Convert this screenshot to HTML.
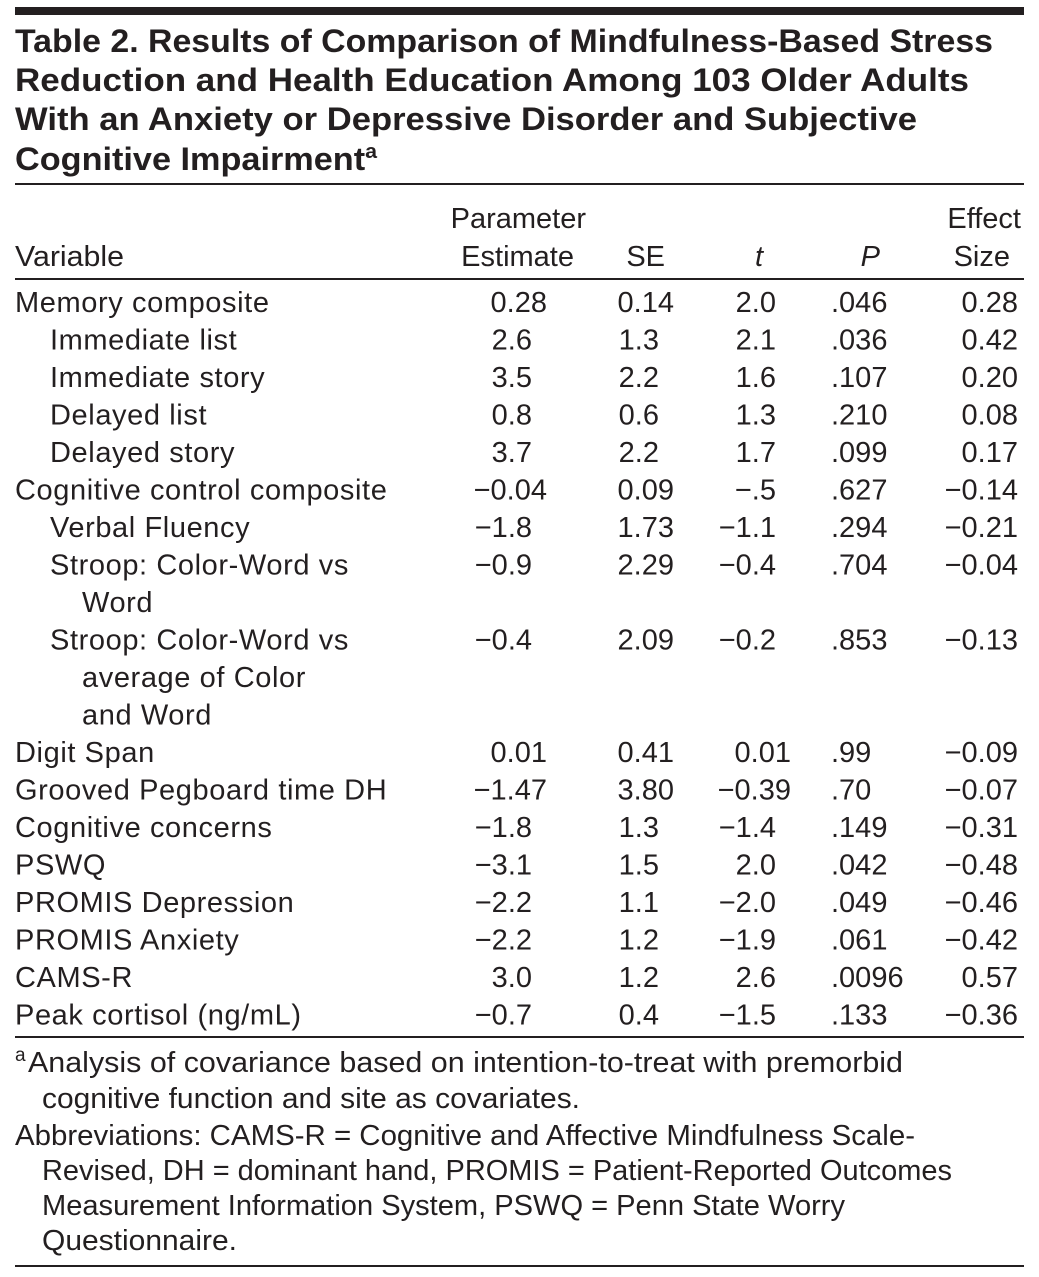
<!DOCTYPE html>
<html><head><meta charset="utf-8"><style>
html,body{margin:0;padding:0;background:#fff;}
svg{display:block;font-family:"Liberation Sans",Arial,sans-serif;fill:#231f20;}
</style></head><body>
<svg id="tbl" width="1039" height="1277" viewBox="0 0 1039 1277">
<rect x="15" y="7" width="1009" height="8" fill="#231f20"/>
<g font-weight="bold" font-size="32">
<text x="15" y="52" textLength="978" lengthAdjust="spacingAndGlyphs">Table 2. Results of Comparison of Mindfulness-Based Stress</text>
<text x="15" y="91" textLength="954" lengthAdjust="spacingAndGlyphs">Reduction and Health Education Among 103 Older Adults</text>
<text x="15" y="130" textLength="902" lengthAdjust="spacingAndGlyphs">With an Anxiety or Depressive Disorder and Subjective</text>
<text x="15" y="170" textLength="362" lengthAdjust="spacingAndGlyphs">Cognitive Impairment<tspan font-size="20" dy="-12">a</tspan></text>
</g>
<rect x="15" y="183" width="1009" height="2" fill="#231f20"/>
<g font-size="29">
<text x="15" y="266" textLength="109" lengthAdjust="spacingAndGlyphs">Variable</text>
<text x="586" y="228" text-anchor="end">Parameter</text>
<text x="574" y="266" text-anchor="end">Estimate</text>
<text x="665" y="266" text-anchor="end">SE</text>
<text x="763" y="266" text-anchor="end" font-style="italic">t</text>
<text x="880" y="266" text-anchor="end" font-style="italic">P</text>
<text x="1021" y="228" text-anchor="end">Effect</text>
<text x="1010" y="266" text-anchor="end">Size</text>
</g>
<rect x="15" y="278" width="1009" height="2" fill="#231f20"/>
<g id="rows" font-size="29"></g>
<rect x="15" y="1036" width="1009" height="2" fill="#231f20"/>
<g font-size="29">
<text x="15" y="1061" font-size="19">a</text>
<text x="28" y="1072" textLength="875" lengthAdjust="spacingAndGlyphs">Analysis of covariance based on intention-to-treat with premorbid</text>
<text x="42" y="1108" textLength="538" lengthAdjust="spacingAndGlyphs">cognitive function and site as covariates.</text>
<text x="15" y="1145" textLength="900" lengthAdjust="spacingAndGlyphs">Abbreviations: CAMS-R = Cognitive and Affective Mindfulness Scale-</text>
<text x="42" y="1180" textLength="910" lengthAdjust="spacingAndGlyphs">Revised, DH = dominant hand, PROMIS = Patient-Reported Outcomes</text>
<text x="42" y="1215" textLength="803" lengthAdjust="spacingAndGlyphs">Measurement Information System, PSWQ = Penn State Worry</text>
<text x="42" y="1250" textLength="195" lengthAdjust="spacingAndGlyphs">Questionnaire.</text>
</g>
<rect x="15" y="1265" width="1009" height="2" fill="#231f20"/>
</svg>
<script>
const labels=[["Memory composite"],["Immediate list"],["Immediate story"],["Delayed list"],["Delayed story"],["Cognitive control composite"],["Verbal Fluency"],["Stroop: Color-Word vs","Word"],["Stroop: Color-Word vs","average of Color","and Word"],["Digit Span"],["Grooved Pegboard time DH"],["Cognitive concerns"],["PSWQ"],["PROMIS Depression"],["PROMIS Anxiety"],["CAMS-R"],["Peak cortisol (ng/mL)"]];
const indent=[0,1,1,1,1,0,1,1,1,0,0,0,0,0,0,0,0];
const estimates=["0.28","2.6","3.5","0.8","3.7","−0.04","−1.8","−0.9","−0.4","0.01","−1.47","−1.8","−3.1","−2.2","−2.2","3.0","−0.7"];
const ses=["0.14","1.3","2.2","0.6","2.2","0.09","1.73","2.29","2.09","0.41","3.80","1.3","1.5","1.1","1.2","1.2","0.4"];
const tvals=["2.0","2.1","1.6","1.3","1.7","−.5","−1.1","−0.4","−0.2","0.01","−0.39","−1.4","2.0","−2.0","−1.9","2.6","−1.5"];
const pvals=[".046",".036",".107",".210",".099",".627",".294",".704",".853",".99",".70",".149",".042",".049",".061",".0096",".133"];
const effects=["0.28","0.42","0.20","0.08","0.17","−0.14","−0.21","−0.04","−0.13","−0.09","−0.07","−0.31","−0.48","−0.46","−0.42","0.57","−0.36"];
const NS="http://www.w3.org/2000/svg";
const g=document.getElementById('rows');
function txt(x,y,s,anchor){const t=document.createElementNS(NS,'text');t.setAttribute('x',x);t.setAttribute('y',y);if(anchor)t.setAttribute('text-anchor',anchor);t.textContent=s;g.appendChild(t);return t;}
function decRight(dec,s){const i=s.indexOf('.');const f=i<0?0:s.length-i-1;return dec+7+f*15;}
let y=312;const lh=37.5;
labels.forEach((lab,r)=>{
  lab.forEach((l,k)=>{const t=txt(k===0?(indent[r]?50:15):82,y+k*lh,l);
    t.setAttribute('letter-spacing','0.6');
    
    });
  let t=txt(decRight(510,estimates[r]),y,estimates[r],'end');
  
  
  t=txt(decRight(637,ses[r]),y,ses[r],'end');
  
  
  t=txt(decRight(754,tvals[r]),y,tvals[r],'end');
  
  
  t=txt(831,y,pvals[r]);
  
  
  t=txt(1018,y,effects[r],'end');
  
  
  y+=lh*lab.length;
});
</script>
</body></html>
